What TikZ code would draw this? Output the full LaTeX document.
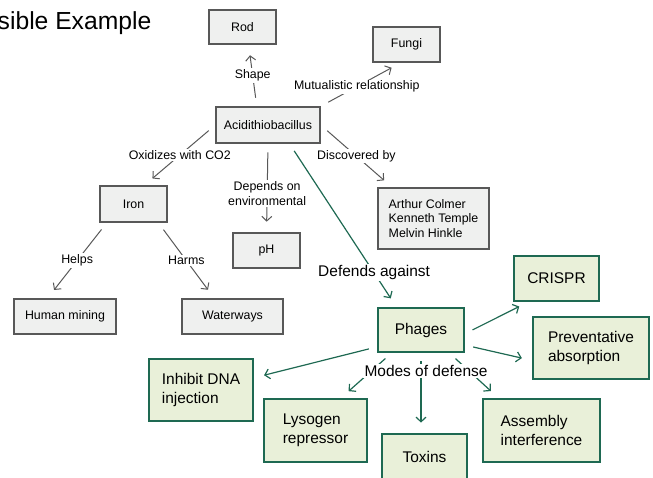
\documentclass[tikz,border=0pt]{standalone}
\usepackage{fontspec}
\setmainfont{Liberation Sans}
\usetikzlibrary{arrows.meta}
\definecolor{boxgray}{RGB}{239,240,239}
\definecolor{edgegray}{RGB}{88,88,88}
\definecolor{boxgreen}{RGB}{233,240,217}
\definecolor{pine}{RGB}{30,105,82}
\tikzset{
  >={Straight Barb[length=3.5pt,width=7.5pt]},
  x=0.75pt,y=-0.75pt,
  gbox/.style={draw=edgegray,fill=boxgray,line width=1pt,minimum width=#1,
    minimum height=26.25pt,font=\fontsize{9.3}{11}\selectfont,align=left},
  gbox/.default=50.25pt,
  vbox/.style={draw=pine,fill=boxgreen,line width=1.1pt,minimum width=#1,
    font=\fontsize{11.6}{14}\selectfont,align=left},
  link/.style={->,draw=edgegray,line width=0.75pt,shorten <=6.5pt,shorten >=8pt},
  vlink/.style={link,draw=pine,line width=0.9pt},
  elbl/.style={fill=white,inner sep=1pt,font=\fontsize{9.3}{11}\selectfont},
  vlbl/.style={fill=white,inner sep=1pt,font=\fontsize{11.6}{14}\selectfont},
}
\begin{document}
\begin{tikzpicture}
  \useasboundingbox (0,0) rectangle (653,478);
  \clip (0,0) rectangle (653,478);
  \node[anchor=base east,font=\fontsize{18.5}{22}\selectfont] (title) at (156,30) {Possible Example};

  % bacterium and its traits
  \node[gbox,minimum height=25.5pt] (rod) at (242.5,27) {Rod};
  \node[gbox=78pt,minimum height=27pt] (acid) at (268,125) {Acidithiobacillus};
  \node[gbox] (fungi) at (406.5,44.5) {Fungi};
  \node[gbox,minimum height=27pt] (iron) at (133.5,204) {Iron};
  \node[gbox] (ph) at (266.5,250.5) {pH};
  \node[gbox=76.5pt] (mining) at (65,316.5) {Human mining};
  \node[gbox=75.75pt] (water) at (232.5,316.5) {Waterways};
  \node[gbox=83.25pt,minimum height=45.75pt] (finders) at (433.5,218.5) {Arthur Colmer\\Kenneth Temple\\Melvin Hinkle};

  \draw[link] (acid.121) -- (rod.-71) node[elbl,pos=0.5] {Shape};
  \draw[link] (acid.north east) -- (fungi.253) node[elbl,pos=0.45] {Mutualistic relationship};
  \draw[link] (acid.west) -- (iron.60) node[elbl,pos=0.5] {Oxidizes with CO2};
  \draw[link] (acid.south) -- (ph.north) node[elbl,pos=0.56,align=center] {Depends on\\environmental};
  \draw[link] (acid.east) -- (finders.143) node[elbl,pos=0.5] {Discovered by};
  \draw[link] (iron.215) -- (mining.134) node[elbl,pos=0.5] {Helps};
  \draw[link] (iron.-37) -- (water.135) node[elbl,pos=0.5] {Harms};

  % phage defence
  \node[vbox=64.5pt,minimum height=33pt] (phages) at (421,330) {Phages};
  \node[vbox=63.75pt,minimum height=33.75pt] (crispr) at (556.5,278.5) {CRISPR};
  \node[vbox=87pt,minimum height=46.5pt] (absorb) at (591,348) {Preventative\\absorption};
  \node[vbox=78pt,minimum height=46.5pt] (inhibit) at (201,390) {Inhibit DNA\\injection};
  \node[vbox=77.25pt,minimum height=47.25pt] (lysogen) at (315.5,430.5) {Lysogen\\repressor};
  \node[vbox=63.75pt,minimum height=34.5pt] (toxins) at (424.5,457) {Toxins};
  \node[vbox=87.75pt,minimum height=47.25pt] (assembly) at (541.5,430.5) {Assembly\\interference};

  \draw[vlink] (acid.-41) -- (phages.137) node[vlbl,pos=0.79] {Defends against};
  \draw[vlink] (phages.-5) -- (crispr.220);
  \draw[vlink] (phages.-19) -- (absorb.192);
  \draw[vlink] (phages.201) -- (inhibit.13);
  \draw[vlink] (phages.218) -- (lysogen.52);
  \draw[vlink] (phages.south) -- (phages.south |- toxins.north);
  \draw[vlink] (phages.-39) -- (assembly.143);
  \node[vlbl] (modes) at (426,371) {Modes of defense};
\end{tikzpicture}
\end{document}
